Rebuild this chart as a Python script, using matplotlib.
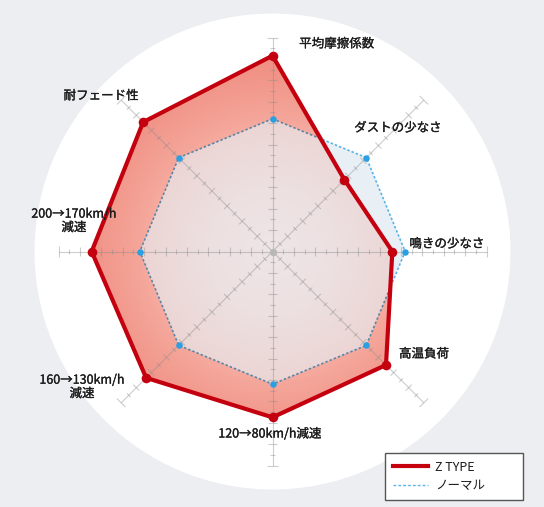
import numpy as np
import matplotlib.pyplot as plt
import matplotlib.patheffects as pe
from matplotlib.patches import Polygon, Circle
from matplotlib.lines import Line2D
from matplotlib.collections import LineCollection

plt.rcParams['font.family'] = ['Noto Sans CJK JP', 'DejaVu Sans']

# data (0-10 scale, 20 ticks per spoke)
categories = ["平均摩擦係数", "ダストの少なさ", "鳴きの少なさ", "高温負荷",
              "120→80km/h減速", "160→130km/h\n減速", "200→170km/h\n減速", "耐フェード性"]
z_type = [9.15, 4.75, 5.6, 7.5, 7.75, 8.35, 8.45, 8.55]
normal = [6.2, 6.2, 6.2, 6.2, 6.2, 6.2, 6.2, 6.2]
series_names = ["Z TYPE", "ノーマル"]
r_max = 10
tick_step = 0.5

# where the spoke labels sit (data units, centre = 0,0)
label_pos = [(3.0, 9.7), (5.86, 5.77), (8.15, 0.35), (7.08, -4.79),
             (-0.12, -8.53), (-8.9, -6.33), (-9.28, 1.43), (-8.01, 7.27)]

RED = "#c4000f"
BLUE = "#2a9fe2"
BG = "#eceef2"

W, H = 544, 507
cx, cy = 272.5, 251.5
px = 21.4  # pixels per unit

fig = plt.figure(figsize=(W / 100, H / 100), dpi=100, facecolor=BG)
ax = fig.add_axes([0, 0, 1, 1])
x0, x1 = -cx / px, (W - cx) / px
y0, y1 = -(H - cy) / px, cy / px
ax.set_xlim(x0, x1)
ax.set_ylim(y0, y1)
ax.set_aspect("equal")
ax.axis("off")

ang = np.deg2rad(np.arange(len(categories)) * 360 / len(categories))


def to_xy(vals):
    v = np.asarray(vals, float)
    return np.column_stack([v * np.sin(ang), v * np.cos(ang)])


ax.add_patch(Circle((0, 0), 11.12, fc="white", ec="none", zorder=0))

z_xy = to_xy(z_type)
n_xy = to_xy(normal)

# normal area (visible where it pokes out of the red one)
ax.add_patch(Polygon(n_xy, closed=True, fc="#e8f0f6", ec="none", zorder=1))
ax.plot(np.r_[n_xy[:, 0], n_xy[0, 0]], np.r_[n_xy[:, 1], n_xy[0, 1]],
        color="#5ab4e8", lw=1.2, ls=(0, (1.5, 1.2)), zorder=2)

# red area with radial gradient
red_patch = Polygon(z_xy, closed=True, fc="none", ec="none", zorder=3)
ax.add_patch(red_patch)
gx, gy = np.meshgrid(np.linspace(x0, x1, 400), np.linspace(y0, y1, 400))
rr = np.hypot(gx, gy)
stops_r = [0, 3, 6.2, 9.5]
stops_c = np.array([(255, 228, 224), (250, 208, 202), (245, 166, 154), (239, 138, 126)]) / 255
img = np.dstack([np.interp(rr, stops_r, stops_c[:, i]) for i in range(3)])
im = ax.imshow(img, extent=(x0, x1, y0, y1), origin="lower", zorder=3,
               interpolation="bilinear", aspect="auto")
im.set_clip_path(red_patch)

# normal area tint inside the red one
tint = Polygon(n_xy, closed=True, fc="#e8e6e9", ec="none", alpha=0.73, zorder=4)
ax.add_patch(tint)
tint.set_clip_path(red_patch)

# spokes and ticks
segs = []
for a in ang:
    d = np.array([np.sin(a), np.cos(a)])
    p = np.array([np.cos(a), -np.sin(a)])
    segs.append([(0, 0), tuple(d * r_max)])
    for k in range(1, int(r_max / tick_step) + 1):
        r = k * tick_step
        h = 0.28 if k == int(r_max / tick_step) else (0.2 if k % 2 == 0 else 0.12)
        segs.append([tuple(d * r + p * h), tuple(d * r - p * h)])
ax.add_collection(LineCollection(segs, colors="#8a8a8a", alpha=0.42, lw=0.8, zorder=5))
ax.scatter([0], [0], s=18, color="#b8b8b8", zorder=5)

# normal outline again, darker where it runs under the red fill
inner, = ax.plot(np.r_[n_xy[:, 0], n_xy[0, 0]], np.r_[n_xy[:, 1], n_xy[0, 1]],
                 color="#5c86a6", lw=1.2, ls=(0, (1.5, 1.2)), zorder=6)
inner.set_clip_path(red_patch)

# Z TYPE outline
ax.plot(np.r_[z_xy[:, 0], z_xy[0, 0]], np.r_[z_xy[:, 1], z_xy[0, 1]],
        color=RED, lw=3, solid_joinstyle="round", zorder=7)
ax.scatter(z_xy[:, 0], z_xy[:, 1], s=48, color=RED, zorder=8, lw=0)
ax.scatter(n_xy[:, 0], n_xy[:, 1], s=22, color=BLUE, zorder=8, lw=0)

semi = [pe.withStroke(linewidth=0.2, foreground="#1c1c1c")]
for name, (lx, ly) in zip(categories, label_pos):
    ax.text(lx, ly, name, ha="center", va="center", fontsize=9, color="#1c1c1c",
            linespacing=1.05, zorder=9, path_effects=semi)

handles = [Line2D([], [], color=RED, lw=3),
           Line2D([], [], color="#5ab4e8", lw=1, ls=(0, (2, 1.5)))]
leg = ax.legend(handles, series_names, loc="center", mode="expand",
                bbox_to_anchor=(385 / W, 6 / H, 138 / W, 49 / H),
                bbox_transform=fig.transFigure, fontsize=9, frameon=True,
                fancybox=False, framealpha=1, edgecolor="#555555",
                handlelength=2.8, handletextpad=0.6, borderpad=0.6,
                labelspacing=0.45, borderaxespad=0)
leg.get_frame().set_linewidth(1)
for t in leg.get_texts():
    t.set_color("#1c1c1c")

fig.savefig("out.png", dpi=100, facecolor=BG)
